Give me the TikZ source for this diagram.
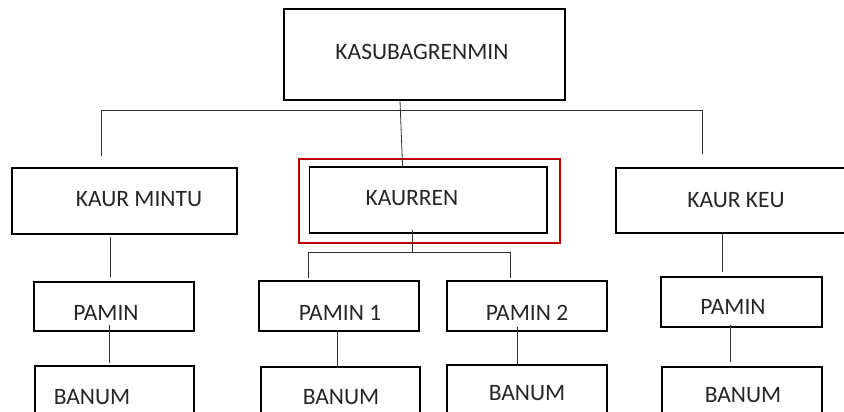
\documentclass[tikz,border=0pt]{standalone}
\usepackage{fontspec}
\setmainfont{Carlito}
\definecolor{redframe}{HTML}{C00000}
\definecolor{conn}{HTML}{303030}
\tikzset{
  box/.style={draw=black, line width=1.6pt, inner sep=0pt, fill=none},
  redbox/.style={draw=redframe, line width=1.6pt, inner sep=0pt},
  lbl/.style={inner sep=0pt, anchor=base, font=\fontsize{23.5}{28}\selectfont, text=black!85},
  conline/.style={draw=conn, line width=0.8pt}
}
\begin{document}
\begin{tikzpicture}[x=1pt,y=-1pt]
\useasboundingbox (0,0) rectangle (844,412);
\clip (0,0) rectangle (844,412);
\fill[white] (0,0) rectangle (844,412);

% top
\node[box, minimum width=281pt, minimum height=91pt] (top) at (424.5,54.5) {};
\node[lbl] (ttop) at (422,60) {KASUBAGRENMIN};

% second level
\node[redbox, minimum width=261pt, minimum height=84pt] (red) at (429.5,201) {};
\node[box, minimum width=225pt, minimum height=66pt] (mintu) at (124.5,201) {};
\node[lbl] (tmintu) at (139,206.5) {KAUR MINTU};
\node[box, minimum width=237.5pt, minimum height=66pt] (kaurren) at (428.25,200) {};
\node[lbl] (tkaurren) at (412,205.5) {KAURREN};
\node[box, minimum width=250pt, minimum height=65pt] (keu) at (741,200.5) {};
\node[lbl] (tkeu) at (736,207.5) {KAUR KEU};

% third level
\node[box, minimum width=160pt, minimum height=49pt] (paminL) at (114,306.5) {};
\node[lbl] (tpaminL) at (106,320.5) {PAMIN};
\node[box, minimum width=160pt, minimum height=50pt] (pamin1) at (339,306) {};
\node[lbl] (tpamin1) at (340,320.5) {PAMIN 1};
\node[box, minimum width=160pt, minimum height=50pt] (pamin2) at (527,306) {};
\node[lbl] (tpamin2) at (527,320.5) {PAMIN 2};
\node[box, minimum width=161pt, minimum height=50pt] (paminR) at (741.5,302) {};
\node[lbl] (tpaminR) at (733,314.5) {PAMIN};

% fourth level
\node[box, minimum width=159pt, minimum height=80pt] (banumL) at (114.5,406) {};
\node[lbl] (tbanumL) at (92,404.5) {BANUM};
\node[box, minimum width=159pt, minimum height=80pt] (banum1) at (340.5,407) {};
\node[lbl] (tbanum1) at (341,404.5) {BANUM};
\node[box, minimum width=160pt, minimum height=80pt] (banum2) at (527,405) {};
\node[lbl] (tbanum2) at (527,400.5) {BANUM};
\node[box, minimum width=160pt, minimum height=80pt] (banumR) at (742,407) {};
\node[lbl] (tbanumR) at (743,402.5) {BANUM};

% connector points
\coordinate (busL) at (101,110);
\coordinate (busR) at (702,110);
\coordinate (busLe) at (101,156);
\coordinate (busRe) at (702,154);
\coordinate (topout) at (400,100.8);
\coordinate (krtop) at (402.6,167);
\coordinate (krout) at (412,230);
\coordinate (krbus) at (412,252);
\coordinate (kbL) at (308,252);
\coordinate (kbR) at (510,252);
\coordinate (kbLe) at (308,278);
\coordinate (kbRe) at (510,278);
\coordinate (mA) at (110,237);
\coordinate (mB) at (110,277);
\coordinate (kA) at (722.5,233.5);
\coordinate (kB) at (722.5,272);
\coordinate (pLA) at (109,325);
\coordinate (pLB) at (109,363);
\coordinate (p1A) at (337,331);
\coordinate (p1B) at (337,368);
\coordinate (p2A) at (517,327);
\coordinate (p2B) at (517,364);
\coordinate (pRA) at (730,325);
\coordinate (pRB) at (730,362);

% connectors
\draw[conline] (busLe) -- (busL) -- (busR) -- (busRe);
\draw[conline] (topout) -- (krtop);
\draw[conline] (krout) -- (krbus);
\draw[conline] (kbLe) -- (kbL) -- (kbR) -- (kbRe);
\draw[conline] (mA) -- (mB);
\draw[conline] (kA) -- (kB);
\draw[conline] (pLA) -- (pLB);
\draw[conline] (p1A) -- (p1B);
\draw[conline] (p2A) -- (p2B);
\draw[conline] (pRA) -- (pRB);
\end{tikzpicture}
\end{document}
